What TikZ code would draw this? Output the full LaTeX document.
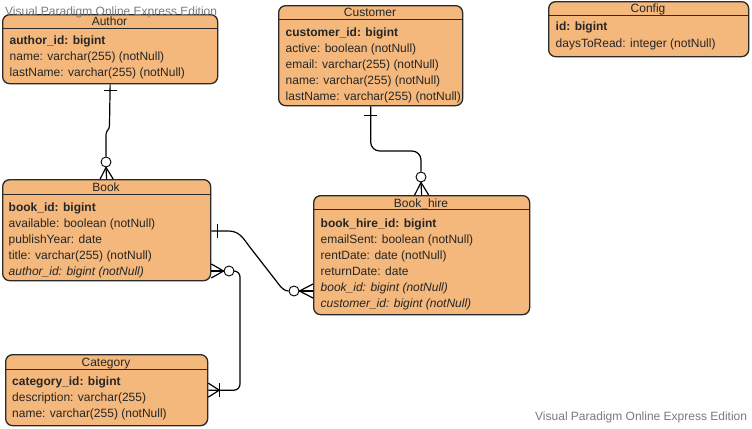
\documentclass[tikz,border=0pt]{standalone}
\usepackage{fontspec}
\setmainfont{Liberation Sans}
\usetikzlibrary{calc}
\definecolor{boxfill}{HTML}{F4B77C}
\definecolor{boxline}{HTML}{2A2A2A}
\definecolor{txt}{HTML}{262626}
\definecolor{wmark}{HTML}{7A7A7A}
\begin{document}
\begin{tikzpicture}[x=1bp,y=-1bp,
  entity/.style={draw=boxline, fill=boxfill, rounded corners=7bp, line width=1.3bp, inner sep=0pt, anchor=north west},
  hdr/.style={draw=boxline, line width=1bp},
  ttl/.style={font=\fontsize{12bp}{14bp}\selectfont, text=txt, inner sep=0pt, anchor=base},
  fld/.style={font=\fontsize{12bp}{14bp}\selectfont, text=txt, inner sep=0pt, anchor=base west},
  conn/.style={draw=black, line width=1.2bp},
  circ/.style={circle, draw=black, fill=white, line width=0.9bp, minimum size=10bp, inner sep=0pt},
  wm/.style={font=\fontsize{12bp}{14bp}\selectfont, text=wmark, inner sep=0pt, anchor=base west}]
\fill[white] (0,0) rectangle (752,428);
\useasboundingbox (0,0) rectangle (752,428);

% ---------- Author
\node[entity, minimum width=215bp, minimum height=69bp] (author) at (2,14) {};
\draw[hdr] (2,28.5) -- (217,28.5);
\node[ttl] (authorT) at (109.5,25) {Author};
\node[fld] (authorF1) at (9.5,44.5) {\textbf{author\_id: bigint}};
\node[fld] (authorF2) at (9.5,60.5) {name: varchar(255) (notNull)};
\node[fld] (authorF3) at (9.5,76) {lastName: varchar(255) (notNull)};

% ---------- Customer
\node[entity, minimum width=184bp, minimum height=100bp] (customer) at (278,5) {};
\draw[hdr] (278,19) -- (462,19);
\node[ttl] (customerT) at (370,16.5) {Customer};
\node[fld] (customerF1) at (285.5,36.5) {\textbf{customer\_id: bigint}};
\node[fld] (customerF2) at (285.5,52.5) {active: boolean (notNull)};
\node[fld] (customerF3) at (285.5,68.5) {email: varchar(255) (notNull)};
\node[fld] (customerF4) at (285.5,84.5) {name: varchar(255) (notNull)};
\node[fld] (customerF5) at (285.5,100.5) {lastName: varchar(255) (notNull)};

% ---------- Config
\node[entity, minimum width=200bp, minimum height=55bp] (config) at (548,1) {};
\draw[hdr] (548,15) -- (748,15);
\node[ttl] (configT) at (648,12.5) {Config};
\node[fld] (configF1) at (555.5,30) {\textbf{id: bigint}};
\node[fld] (configF2) at (555.5,47) {daysToRead: integer (notNull)};

% ---------- Book
\node[entity, minimum width=208bp, minimum height=101bp] (book) at (2,179) {};
\draw[hdr] (2,194) -- (210,194);
\node[ttl] (bookT) at (106,191.5) {Book};
\node[fld] (bookF1) at (8.5,211.5) {\textbf{book\_id: bigint}};
\node[fld] (bookF2) at (8.5,227) {available: boolean (notNull)};
\node[fld] (bookF3) at (8.5,243.5) {publishYear: date};
\node[fld] (bookF4) at (8.5,259.5) {title: varchar(255) (notNull)};
\node[fld] (bookF5) at (8.5,275) {\itshape author\_id: bigint (notNull)};

% ---------- Book_hire
\node[entity, minimum width=216bp, minimum height=119bp] (bookhire) at (313,195) {};
\draw[hdr] (313,209) -- (529,209);
\node[ttl] (bookhireT) at (421,207.5) {Book\_hire};
\node[fld] (bookhireF1) at (320.5,227.5) {\textbf{book\_hire\_id: bigint}};
\node[fld] (bookhireF2) at (320.5,243.5) {emailSent: boolean (notNull)};
\node[fld] (bookhireF3) at (320.5,259.5) {rentDate: date (notNull)};
\node[fld] (bookhireF4) at (320.5,275.5) {returnDate: date};
\node[fld] (bookhireF5) at (320.5,291.5) {\itshape book\_id: bigint (notNull)};
\node[fld] (bookhireF6) at (320.5,307.5) {\itshape customer\_id: bigint (notNull)};

% ---------- Category
\node[entity, minimum width=202bp, minimum height=71bp] (category) at (5,354) {};
\draw[hdr] (5,369) -- (207,369);
\node[ttl] (categoryT) at (106,366.5) {Category};
\node[fld] (categoryF1) at (12,385.5) {\textbf{category\_id: bigint}};
\node[fld] (categoryF2) at (12,401.5) {description: varchar(255)};
\node[fld] (categoryF3) at (12,417.5) {name: varchar(255) (notNull)};

% ---------- Author -- Book
\node[circ] (c1) at (106,162) {};
\draw[conn] (author.south) -- (109.5,125) .. controls (109.5,131) and (106,129) .. (106,136) -- (c1.north);
\draw[conn] ($(author.south)+(-6.5,6)$) -- ($(author.south)+(6.5,6)$);
\draw[conn] (c1.south) -- ($(book.north)+(-6.5,0)$);
\draw[conn] (c1.south) -- (book.north);
\draw[conn] (c1.south) -- ($(book.north)+(6.5,0)$);

% ---------- Customer -- Book_hire
\node[circ] (c2) at (421,177) {};
\draw[conn, rounded corners=9bp] (customer.south) |- (421,151) -- (c2.north);
\draw[conn] ($(customer.south)+(-6.5,9)$) -- ($(customer.south)+(6.5,9)$);
\draw[conn] (c2.south) -- ($(bookhire.north)+(-7,0)$);
\draw[conn] (c2.south) -- (bookhire.north);
\draw[conn] (c2.south) -- ($(bookhire.north)+(7,0)$);

% ---------- Book -- Book_hire
\coordinate (bk1) at ($(book.north east)+(0,52)$);
\coordinate (bh1) at ($(bookhire.north west)+(0,96)$);
\node[circ] (c3) at (294,291) {};
\draw[conn] (bk1) -- (228,231) .. controls (238,231) and (242,236) .. (249,246)
  -- (277,282) .. controls (282,289) and (285,291) .. (c3.west);
\draw[conn] ($(bk1)+(6,-7)$) -- ($(bk1)+(6,7)$);
\draw[conn] (c3.east) -- ($(bh1)+(0,-7)$);
\draw[conn] (c3.east) -- (bh1);
\draw[conn] (c3.east) -- ($(bh1)+(0,7)$);

% ---------- Book -- Category
\coordinate (bk2) at ($(book.north east)+(0,92)$);
\node[circ] (c4) at (229,271) {};
\draw[conn] (c4.west) -- ($(bk2)+(0,-7)$);
\draw[conn] (c4.west) -- (bk2);
\draw[conn] (c4.west) -- ($(bk2)+(0,7)$);
\draw[conn, rounded corners=6bp] (c4.east) -| (240,330) |- (category.east);
\draw[conn] ($(category.east)+(11,-7)$) -- ($(category.east)+(11,7)$);
\draw[conn] ($(category.east)+(11,0)$) -- ($(category.east)+(0,-7)$);
\draw[conn] ($(category.east)+(11,0)$) -- ($(category.east)+(0,7)$);

% ---------- watermarks
\node[wm] (wm1) at (5,15) {Visual Paradigm Online Express Edition};
\node[wm] (wm2) at (535,420) {Visual Paradigm Online Express Edition};
\end{tikzpicture}
\end{document}
